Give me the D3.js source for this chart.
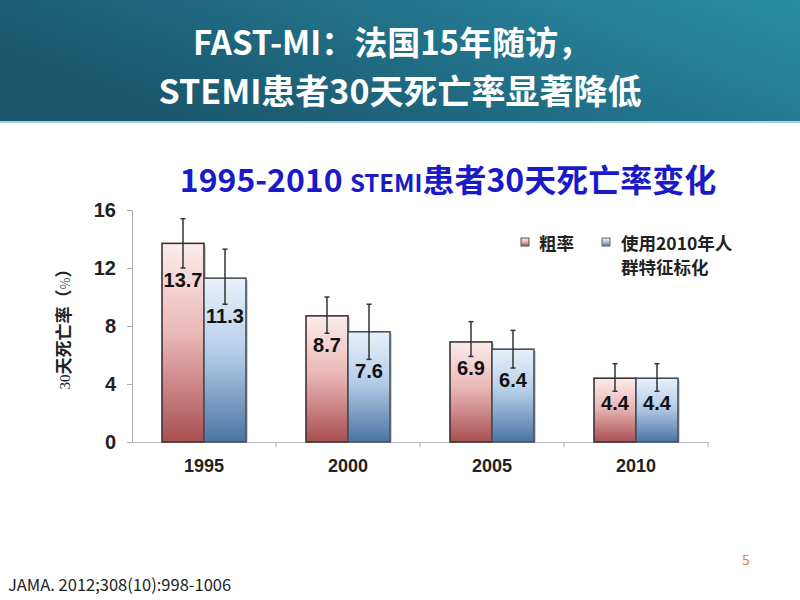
<!DOCTYPE html>
<html><head><meta charset="utf-8">
<script src="https://cdn.jsdelivr.net/npm/d3@7/dist/d3.min.js"></script>
<style>html,body{margin:0;padding:0;background:#fff;}svg{display:block;}</style>
</head><body>
<script>
const categories = ["1995", "2000", "2005", "2010"];
const seriesNames = ["粗率", "使用2010年人群特征标化"];
const crude = [13.7, 8.7, 6.9, 4.4];
const adjusted = [11.3, 7.6, 6.4, 4.4];
const crudeHi = [15.4, 10.0, 8.3, 5.4];
const crudeLo = [12.0, 7.5, 5.9, 3.5];
const adjHi = [13.3, 9.5, 7.7, 5.4];
const adjLo = [9.5, 5.7, 5.1, 3.5];
const yTicks = [0, 4, 8, 12, 16];

const W = 800, H = 600;
const svg = d3.select("body").append("svg").attr("width", W).attr("height", H);
const defs = svg.append("defs");

const hg = defs.append("linearGradient").attr("id", "hdr").attr("x1", "0").attr("x2", "1").attr("y1", "0.4").attr("y2", "0");
hg.append("stop").attr("offset", "0").attr("stop-color", "#1a566c");
hg.append("stop").attr("offset", "0.5").attr("stop-color", "#22728a");
hg.append("stop").attr("offset", "1").attr("stop-color", "#2b8ca6");
const rg = defs.append("linearGradient").attr("id", "gRed").attr("x1", 0).attr("x2", 0).attr("y1", 0).attr("y2", 1);
rg.append("stop").attr("offset", "0").attr("stop-color", "#fcecec");
rg.append("stop").attr("offset", "0.45").attr("stop-color", "#ebb8b8");
rg.append("stop").attr("offset", "1").attr("stop-color", "#a94f52");
const bg = defs.append("linearGradient").attr("id", "gBlue").attr("x1", 0).attr("x2", 0).attr("y1", 0).attr("y2", 1);
bg.append("stop").attr("offset", "0").attr("stop-color", "#e8f1fb");
bg.append("stop").attr("offset", "0.45").attr("stop-color", "#b6cde8");
bg.append("stop").attr("offset", "1").attr("stop-color", "#4a74a3");

svg.append("rect").attr("x", 0).attr("y", 0).attr("width", W).attr("height", 123).attr("fill", "url(#hdr)");
svg.append("rect").attr("x", 0).attr("y", 121).attr("width", W).attr("height", 2).attr("fill", "#9fd0dc");

const tfont = "'Noto Sans CJK SC', 'Noto Sans', sans-serif";
svg.append("text").attr("x", 392).attr("y", 55).attr("text-anchor", "middle")
  .attr("font-family", tfont).attr("font-weight", "bold").attr("font-size", 33).attr("fill", "#fff")
  .text("FAST-MI：法国15年随访，");
svg.append("text").attr("x", 400).attr("y", 104).attr("text-anchor", "middle")
  .attr("font-family", tfont).attr("font-weight", "bold").attr("font-size", 34).attr("fill", "#fff")
  .text("STEMI患者30天死亡率显著降低");

const ct = svg.append("text").attr("x", 448).attr("y", 192).attr("text-anchor", "middle")
  .attr("font-family", tfont).attr("font-weight", "bold").attr("fill", "#1a1ac8");
ct.append("tspan").attr("font-size", 32).text("1995-2010 ");
ct.append("tspan").attr("font-size", 24).text("STEMI");
ct.append("tspan").attr("font-size", 32).text("患者30天死亡率变化");

const y = d3.scaleLinear().domain([0, 16]).range([442, 210]);
const x = d3.scaleBand().domain(categories).range([132, 708]).padding(0);
const x1 = d3.scaleBand().domain(seriesNames).range([0, x.bandwidth()]).paddingInner(0).paddingOuter(0.714);

const afont = "'Liberation Sans', Arial, sans-serif";
const yAxis = svg.append("g").attr("transform", "translate(132,0)")
  .call(d3.axisLeft(y).tickValues(yTicks).tickSize(5).tickFormat(d3.format("d")));
yAxis.select(".domain").attr("stroke", "#aaa");
yAxis.selectAll(".tick line").attr("stroke", "#aaa");
yAxis.selectAll(".tick text").attr("font-family", afont).attr("font-weight", "bold").attr("font-size", 20)
  .attr("fill", "#222").attr("x", -16);

const xAxis = svg.append("g").attr("transform", "translate(0,442)")
  .call(d3.axisBottom(x).tickSize(0).tickSizeOuter(0));
xAxis.select(".domain").attr("stroke", "#bbb");
xAxis.selectAll(".tick text").attr("font-family", afont).attr("font-weight", "bold").attr("font-size", 18)
  .attr("fill", "#222").attr("dy", "1.5em");
svg.append("g").selectAll("line").data(categories.slice(1).concat(["end"])).join("line")
  .attr("x1", (d, i) => x.range()[0] + x.step() * (i + 1))
  .attr("x2", (d, i) => x.range()[0] + x.step() * (i + 1))
  .attr("y1", 442).attr("y2", 447).attr("stroke", "#aaa");

const yt = svg.append("text").attr("transform", "translate(70,325) rotate(-90)").attr("text-anchor", "middle")
  .attr("fill", "#222");
yt.append("tspan").attr("font-family", "'Liberation Serif', serif").attr("font-size", 15).text("30");
yt.append("tspan").attr("font-family", tfont).attr("font-weight", "bold").attr("font-size", 17).text("天死亡率（");
yt.append("tspan").attr("font-family", tfont).attr("font-size", 13).attr("fill", "#555").text("%");
yt.append("tspan").attr("font-family", tfont).attr("font-weight", "bold").attr("font-size", 17).text("）");

const rows = categories.map((c, i) => [
  { c, s: seriesNames[0], v: crude[i], hi: crudeHi[i], lo: crudeLo[i], fill: "url(#gRed)", stroke: "#3c3434" },
  { c, s: seriesNames[1], v: adjusted[i], hi: adjHi[i], lo: adjLo[i], fill: "url(#gBlue)", stroke: "#46505c" }
]).flat();

const bars = svg.append("g");
bars.selectAll("rect.sh").data(rows).join("rect").attr("class", "sh")
  .attr("x", d => x(d.c) + x1(d.s) + 2).attr("y", d => y(d.v) + 2)
  .attr("width", x1.bandwidth()).attr("height", d => y(0) - y(d.v) - 2)
  .attr("fill", "#000").attr("opacity", 0.18);
bars.selectAll("rect.bar").data(rows).join("rect").attr("class", "bar")
  .attr("x", d => x(d.c) + x1(d.s)).attr("y", d => y(d.v))
  .attr("width", x1.bandwidth()).attr("height", d => y(0) - y(d.v))
  .attr("fill", d => d.fill).attr("stroke", d => d.stroke).attr("stroke-width", 1.6);

const eb = svg.append("g").attr("stroke", "#333").attr("stroke-width", 1.5);
rows.forEach(d => {
  const cx = x(d.c) + x1(d.s) + x1.bandwidth() / 2;
  eb.append("line").attr("x1", cx).attr("x2", cx).attr("y1", y(d.hi)).attr("y2", y(d.lo));
  eb.append("line").attr("x1", cx - 2.5).attr("x2", cx + 2.5).attr("y1", y(d.hi)).attr("y2", y(d.hi));
  eb.append("line").attr("x1", cx - 2.5).attr("x2", cx + 2.5).attr("y1", y(d.lo)).attr("y2", y(d.lo));
});

svg.append("g").selectAll("text").data(rows).join("text")
  .attr("x", d => x(d.c) + x1(d.s) + x1.bandwidth() / 2)
  .attr("y", d => y(d.lo) + 19)
  .attr("text-anchor", "middle").attr("font-family", afont).attr("font-weight", "bold").attr("font-size", 20)
  .attr("fill", "#111").text(d => d.v.toFixed(1));

const lg = svg.append("g").attr("font-family", tfont).attr("font-weight", "bold").attr("font-size", 17.5).attr("fill", "#222");
lg.append("rect").attr("x", 521).attr("y", 238).attr("width", 8).attr("height", 8).attr("fill", "url(#gRed)").attr("stroke", "#555");
lg.append("text").attr("x", 539).attr("y", 250).text(seriesNames[0]);
lg.append("rect").attr("x", 602).attr("y", 238).attr("width", 8).attr("height", 8).attr("fill", "url(#gBlue)").attr("stroke", "#666");
lg.append("text").attr("x", 621).attr("y", 250).text(seriesNames[1].slice(0, 8));
lg.append("text").attr("x", 621).attr("y", 274).text(seriesNames[1].slice(8));

svg.append("text").attr("x", 8).attr("y", 591).attr("font-family", tfont).attr("font-size", 16.5).attr("fill", "#222")
  .text("JAMA. 2012;308(10):998-1006");
svg.append("text").attr("x", 746).attr("y", 565).attr("text-anchor", "middle").attr("font-family", tfont).attr("font-size", 14)
  .attr("fill", "#e08040").text("5");
</script>
</body></html>
